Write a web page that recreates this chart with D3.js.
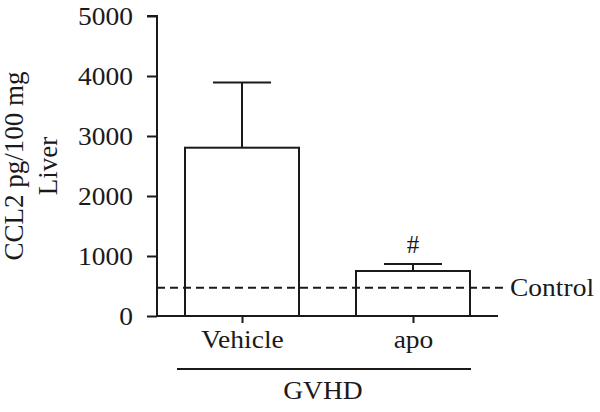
<!DOCTYPE html>
<html><head><meta charset="utf-8">
<script src="https://cdn.jsdelivr.net/npm/d3@7"></script>
<style>body{margin:0;background:#fff}svg{display:block}svg text{font-family:"Liberation Serif","Times New Roman",serif !important;fill:#1a1a1a}</style>
</head><body><svg id="c" width="600" height="412"></svg>
<script>
const categories = ["Vehicle", "apo"];
const means = [2805, 750];
const errors = [1085, 115];
const controlValue = 470;
const yTicks = [0, 1000, 2000, 3000, 4000, 5000];
const markers = ["", "#"];
const groupLabel = "GVHD";
const yLabelLines = ["CCL2 pg/100 mg", "Liver"];

const svg = d3.select("#c");
const col = "#1a1a1a";
const x0 = 157, x1 = 498, yTop = 16, yBot = 316;
const y = d3.scaleLinear().domain([0, 5000]).range([yBot, yTop]);
const xc = d3.scalePoint().domain(categories).range([242, 413]);
const barW = 114;
const stretch = sel => sel.each(function () {
  const w = this.getComputedTextLength();
  d3.select(this).attr("textLength", w * 1.1).attr("lengthAdjust", "spacingAndGlyphs");
});

// y axis
const ya = svg.append("g").attr("transform", `translate(${x0},0)`)
  .call(d3.axisLeft(y).tickValues(yTicks).tickSize(10).tickPadding(14).tickFormat(d3.format("d")));
ya.attr("font-family", null);
ya.selectAll("path,line").attr("stroke", col).attr("stroke-width", 2);
ya.select(".domain").attr("d", `M-10,${yTop}H0V${yBot}`);
ya.selectAll("text").attr("font-size", 25).attr("fill", col).call(stretch);

// bars
const g = svg.append("g");
g.selectAll("rect.bar").data(categories).join("rect")
  .attr("x", d => xc(d) - barW / 2).attr("width", barW)
  .attr("y", (d, i) => y(means[i])).attr("height", (d, i) => yBot - y(means[i]))
  .attr("fill", "#fff").attr("stroke", col).attr("stroke-width", 2);
g.selectAll("line.err").data(categories).join("line")
  .attr("x1", d => xc(d)).attr("x2", d => xc(d))
  .attr("y1", (d, i) => y(means[i])).attr("y2", (d, i) => y(means[i] + errors[i]))
  .attr("stroke", col).attr("stroke-width", 2);
g.selectAll("line.cap").data(categories).join("line")
  .attr("x1", d => xc(d) - 29).attr("x2", d => xc(d) + 29)
  .attr("y1", (d, i) => y(means[i] + errors[i])).attr("y2", (d, i) => y(means[i] + errors[i]))
  .attr("stroke", col).attr("stroke-width", 2);
g.selectAll("text.mk").data(categories).join("text")
  .attr("x", d => xc(d)).attr("y", (d, i) => y(means[i] + errors[i]) - 11)
  .attr("text-anchor", "middle").attr("font-size", 25).text((d, i) => markers[i]);

// x axis
const xa = svg.append("g").attr("transform", `translate(0,${yBot})`)
  .call(d3.axisBottom(xc).tickSize(7).tickPadding(7));
xa.attr("font-family", null);
xa.select(".domain").attr("d", `M${x0},0H${x1}`).attr("stroke", col).attr("stroke-width", 2);
xa.selectAll("line").attr("stroke", col).attr("stroke-width", 2);
xa.selectAll("text").attr("font-size", 25).attr("fill", col).attr("dy", "0.72em").call(stretch);

// control dashed line
svg.append("line").attr("x1", x0).attr("x2", 507)
  .attr("y1", y(controlValue)).attr("y2", y(controlValue))
  .attr("stroke", col).attr("stroke-width", 2).attr("stroke-dasharray", "8,5");
svg.append("text").attr("x", 510).attr("y", y(controlValue) + 8).attr("font-size", 25).text("Control").call(stretch);

// group line
svg.append("line").attr("x1", 177).attr("x2", 471).attr("y1", 369).attr("y2", 369)
  .attr("stroke", col).attr("stroke-width", 2);
svg.append("text").attr("x", 323).attr("y", 399).attr("text-anchor", "middle").attr("font-size", 25).text(groupLabel).call(stretch);

// y label
const yl = svg.append("g").attr("transform", `translate(0,${(yTop + yBot) / 2}) rotate(-90)`);
yl.selectAll("text").data(yLabelLines).join("text")
  .attr("x", 0).attr("y", (d, i) => 23 + i * 34)
  .attr("text-anchor", "middle").attr("font-size", 27).text(d => d);
</script></body></html>
